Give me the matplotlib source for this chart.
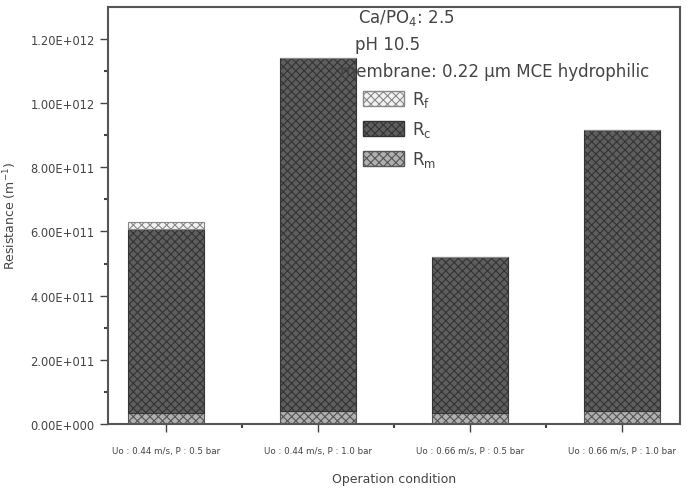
import numpy as np
import matplotlib.pyplot as plt
from matplotlib.patches import Patch

# data
conditions = ['Uo : 0.44 m/s, P : 0.5 bar', 'Uo : 0.44 m/s, P : 1.0 bar',
              'Uo : 0.66 m/s, P : 0.5 bar', 'Uo : 0.66 m/s, P : 1.0 bar']
r_m = [3.5e10, 4.0e10, 3.5e10, 4.0e10]
r_c = [5.72e11, 1.10e12, 4.85e11, 8.77e11]
r_f = [2.3e10, 0.0, 0.0, 0.0]
yticks = [0, 2e11, 4e11, 6e11, 8e11, 1e12, 1.2e12]
ytick_labels = ['0.00E+000', '2.00E+011', '4.00E+011', '6.00E+011',
                '8.00E+011', '1.00E+012', '1.20E+012']

plt.rcParams['hatch.linewidth'] = 0.8
plt.rcParams['hatch.color'] = '#666666'

fig = plt.figure(figsize=(6.87, 4.89), dpi=100)
ax = fig.add_axes([0.157, 0.131, 0.833, 0.853])

x = np.arange(len(conditions))
w = 0.5
rm = np.array(r_m)
rc = np.array(r_c)
rf = np.array(r_f)

ax.bar(x, rm, w, color='#b0b0b0', edgecolor='#555555', hatch='xxxx', lw=0.8)
ax.bar(x, rc, w, bottom=rm, color='#5e5e5e', edgecolor='#333333', hatch='xxxx', lw=0.8)
ax.bar(x, rf, w, bottom=rm + rc, color='#f2f2f2', edgecolor='#888888', hatch='xxxx', lw=0.8)

ax.set_xlim(-0.38, 3.38)
ax.set_ylim(0, 1.3e12)
ax.set_xticks(x)
ax.set_xticklabels(conditions, fontsize=6.3, color='#444444')
ax.set_yticks(yticks)
ax.set_yticklabels(ytick_labels, fontsize=8.3, color='#444444')
ax.set_yticks(np.arange(1e11, 1.3e12, 2e11), minor=True)
ax.set_xticks(x[:-1] + 0.5, minor=True)
ax.tick_params(which='major', direction='out', length=6, width=1, color='#444444')
ax.tick_params(axis='x', which='major', pad=10)
ax.tick_params(which='minor', direction='out', length=3, width=1.5, color='#444444')
for s in ax.spines.values():
    s.set_color('#555555')
    s.set_linewidth(1.5)

ax.set_xlabel('Operation condition', fontsize=9, color='#444444', labelpad=12)
ax.set_ylabel('Resistance (m$^{-1}$)', fontsize=9, color='#444444', labelpad=8)

ax.text(0.437, 0.976, 'Ca/PO$_4$: 2.5', transform=ax.transAxes, fontsize=12,
        va='center', color='#444444')
ax.text(0.432, 0.911, 'pH 10.5', transform=ax.transAxes, fontsize=12,
        va='center', color='#444444')
ax.text(0.406, 0.847, 'membrane: 0.22 \u03bcm MCE hydrophilic', transform=ax.transAxes,
        fontsize=12, va='center', color='#444444')

handles = [Patch(facecolor='#f2f2f2', edgecolor='#888888', hatch='xxxx', label='R$_\\mathrm{f}$'),
           Patch(facecolor='#5e5e5e', edgecolor='#333333', hatch='xxxx', label='R$_\\mathrm{c}$'),
           Patch(facecolor='#b0b0b0', edgecolor='#555555', hatch='xxxx', label='R$_\\mathrm{m}$')]
ax.legend(handles=handles, loc='upper left', bbox_to_anchor=(0.42, 0.838), frameon=False,
          fontsize=12, handlelength=2.45, handleheight=1.0, labelspacing=0.6,
          handletextpad=0.5, labelcolor='#444444')

plt.savefig('out.png')
